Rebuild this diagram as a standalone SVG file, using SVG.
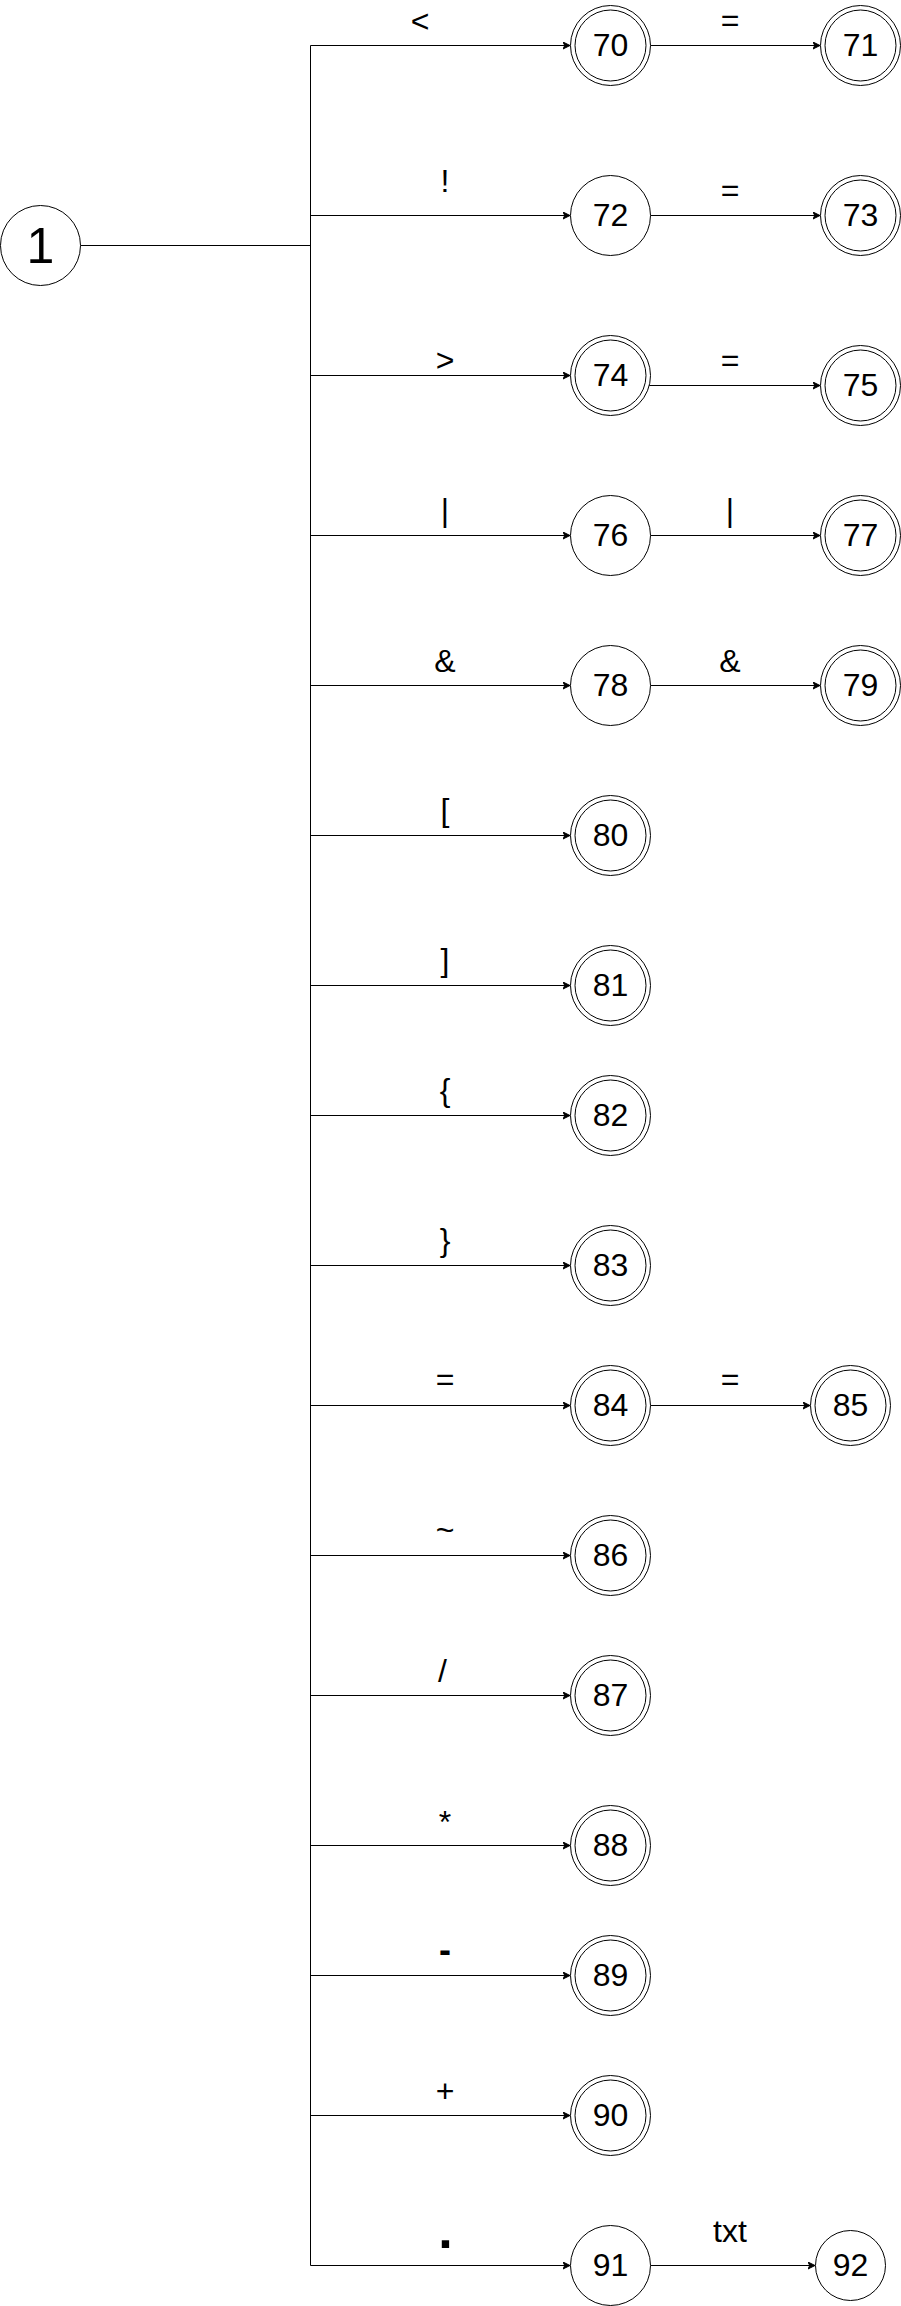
<svg xmlns="http://www.w3.org/2000/svg" width="901" height="2306" viewBox="0 0 901 2306">
<style>
.c{fill:#fff;stroke:#000;stroke-width:1}
.ci{fill:none;stroke:#000;stroke-width:1}
.t{font-family:"Liberation Sans",Arial,sans-serif;font-size:32px;fill:#000;text-anchor:middle}
.e{fill:none;stroke:#000;stroke-width:1}
.a{fill:none;stroke:#000;stroke-width:1;marker-end:url(#arr)}
.l{font-family:"Liberation Sans",Arial,sans-serif;font-size:32px;fill:#000;text-anchor:middle}
</style>
<defs>
<marker id="arr" markerUnits="userSpaceOnUse" markerWidth="8" markerHeight="8" refX="7" refY="3.5" orient="auto">
<path d="M0,0 L7,3.5 L0,7 L1.75,3.5 Z" fill="#000" stroke="#000" stroke-width="1"/>
</marker>
</defs>
<rect width="901" height="2306" fill="#fff"/>
<g id="connectors">
<path class="e" d="M80.5,245.5 H310.5 M310.5,45.5 V2265.5"/>
<path class="a" d="M310.5,45.5 H570"/>
<path class="a" d="M310.5,215.5 H570"/>
<path class="a" d="M310.5,375.5 H570"/>
<path class="a" d="M310.5,535.5 H570"/>
<path class="a" d="M310.5,685.5 H570"/>
<path class="a" d="M310.5,835.5 H570"/>
<path class="a" d="M310.5,985.5 H570"/>
<path class="a" d="M310.5,1115.5 H570"/>
<path class="a" d="M310.5,1265.5 H570"/>
<path class="a" d="M310.5,1405.5 H570"/>
<path class="a" d="M310.5,1555.5 H570"/>
<path class="a" d="M310.5,1695.5 H570"/>
<path class="a" d="M310.5,1845.5 H570"/>
<path class="a" d="M310.5,1975.5 H570"/>
<path class="a" d="M310.5,2115.5 H570"/>
<path class="a" d="M310.5,2265.5 H570"/>
<path class="a" d="M650.5,45.5 H820"/>
<path class="a" d="M650.5,215.5 H820"/>
<path class="a" d="M649.2,385.5 H820"/>
<path class="a" d="M650.5,535.5 H820"/>
<path class="a" d="M650.5,685.5 H820"/>
<path class="a" d="M650.5,1405.5 H810"/>
<path class="a" d="M650.5,2265.5 H815"/>
<text class="l" x="420" y="32">&lt;</text>
<text class="l" x="730" y="31">=</text>
<text class="l" x="445" y="191.5">!</text>
<text class="l" x="730" y="201">=</text>
<text class="l" x="445" y="371">&gt;</text>
<text class="l" x="730" y="371">=</text>
<text class="l" x="445" y="521">|</text>
<text class="l" x="730" y="521">|</text>
<text class="l" x="445" y="671.5">&amp;</text>
<text class="l" x="730" y="671.5">&amp;</text>
<text class="l" x="445" y="821">[</text>
<text class="l" x="445" y="971">]</text>
<text class="l" x="445" y="1101">{</text>
<text class="l" x="445" y="1251">}</text>
<text class="l" x="445" y="1390">=</text>
<text class="l" x="730" y="1390">=</text>
<text class="l" x="445" y="1541">~</text>
<text class="l" x="442.5" y="1682">/</text>
<text class="l" x="445" y="1833">*</text>
<text class="l" x="445" y="1962" style="font-weight:bold;font-size:36px">-</text>
<text class="l" x="445" y="2102">+</text>
<text class="l" x="445.5" y="2248" style="font-weight:bold;font-size:52px">.</text>
<text class="l" x="730" y="2242">txt</text>
</g>
<g id="n1"><circle class="c" cx="40.5" cy="245.5" r="40"/><text class="t" x="40.5" y="263" style="font-size:50px">1</text></g>
<g id="n70"><circle class="c" cx="610.5" cy="45.5" r="40"/><circle class="ci" cx="610.5" cy="45.5" r="35.5"/><text class="t" x="610.5" y="56">70</text></g>
<g id="n71"><circle class="c" cx="860.5" cy="45.5" r="40"/><circle class="ci" cx="860.5" cy="45.5" r="35.5"/><text class="t" x="860.5" y="56">71</text></g>
<g id="n72"><circle class="c" cx="610.5" cy="215.5" r="40"/><text class="t" x="610.5" y="226">72</text></g>
<g id="n73"><circle class="c" cx="860.5" cy="215.5" r="40"/><circle class="ci" cx="860.5" cy="215.5" r="35.5"/><text class="t" x="860.5" y="226">73</text></g>
<g id="n74"><circle class="c" cx="610.5" cy="375.5" r="40"/><circle class="ci" cx="610.5" cy="375.5" r="35.5"/><text class="t" x="610.5" y="386">74</text></g>
<g id="n75"><circle class="c" cx="860.5" cy="385.5" r="40"/><circle class="ci" cx="860.5" cy="385.5" r="35.5"/><text class="t" x="860.5" y="396">75</text></g>
<g id="n76"><circle class="c" cx="610.5" cy="535.5" r="40"/><text class="t" x="610.5" y="546">76</text></g>
<g id="n77"><circle class="c" cx="860.5" cy="535.5" r="40"/><circle class="ci" cx="860.5" cy="535.5" r="35.5"/><text class="t" x="860.5" y="546">77</text></g>
<g id="n78"><circle class="c" cx="610.5" cy="685.5" r="40"/><text class="t" x="610.5" y="696">78</text></g>
<g id="n79"><circle class="c" cx="860.5" cy="685.5" r="40"/><circle class="ci" cx="860.5" cy="685.5" r="35.5"/><text class="t" x="860.5" y="696">79</text></g>
<g id="n80"><circle class="c" cx="610.5" cy="835.5" r="40"/><circle class="ci" cx="610.5" cy="835.5" r="35.5"/><text class="t" x="610.5" y="846">80</text></g>
<g id="n81"><circle class="c" cx="610.5" cy="985.5" r="40"/><circle class="ci" cx="610.5" cy="985.5" r="35.5"/><text class="t" x="610.5" y="996">81</text></g>
<g id="n82"><circle class="c" cx="610.5" cy="1115.5" r="40"/><circle class="ci" cx="610.5" cy="1115.5" r="35.5"/><text class="t" x="610.5" y="1126">82</text></g>
<g id="n83"><circle class="c" cx="610.5" cy="1265.5" r="40"/><circle class="ci" cx="610.5" cy="1265.5" r="35.5"/><text class="t" x="610.5" y="1276">83</text></g>
<g id="n84"><circle class="c" cx="610.5" cy="1405.5" r="40"/><circle class="ci" cx="610.5" cy="1405.5" r="35.5"/><text class="t" x="610.5" y="1416">84</text></g>
<g id="n85"><circle class="c" cx="850.5" cy="1405.5" r="40"/><circle class="ci" cx="850.5" cy="1405.5" r="35.5"/><text class="t" x="850.5" y="1416">85</text></g>
<g id="n86"><circle class="c" cx="610.5" cy="1555.5" r="40"/><circle class="ci" cx="610.5" cy="1555.5" r="35.5"/><text class="t" x="610.5" y="1566">86</text></g>
<g id="n87"><circle class="c" cx="610.5" cy="1695.5" r="40"/><circle class="ci" cx="610.5" cy="1695.5" r="35.5"/><text class="t" x="610.5" y="1706">87</text></g>
<g id="n88"><circle class="c" cx="610.5" cy="1845.5" r="40"/><circle class="ci" cx="610.5" cy="1845.5" r="35.5"/><text class="t" x="610.5" y="1856">88</text></g>
<g id="n89"><circle class="c" cx="610.5" cy="1975.5" r="40"/><circle class="ci" cx="610.5" cy="1975.5" r="35.5"/><text class="t" x="610.5" y="1986">89</text></g>
<g id="n90"><circle class="c" cx="610.5" cy="2115.5" r="40"/><circle class="ci" cx="610.5" cy="2115.5" r="35.5"/><text class="t" x="610.5" y="2126">90</text></g>
<g id="n91"><circle class="c" cx="610.5" cy="2265.5" r="40"/><text class="t" x="610.5" y="2276">91</text></g>
<g id="n92"><circle class="c" cx="850.5" cy="2265.5" r="35"/><text class="t" x="850.5" y="2276">92</text></g>
</svg>
